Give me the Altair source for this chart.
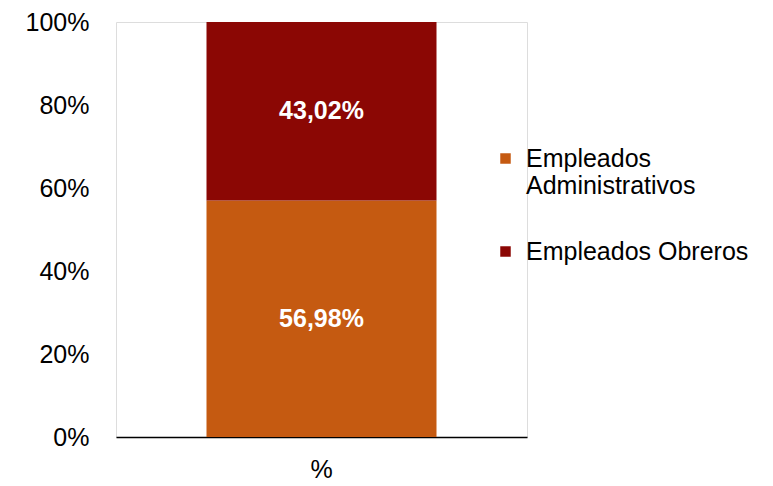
import altair as alt
import pandas as pd

categories = ["%", "%"]
series = ["Empleados Administrativos", "Empleados Obreros"]
values = [0.5698, 0.4302]
labels = ["56,98%", "43,02%"]
order = [0, 1]
colors = ["#C55A11", "#8B0704"]

df = pd.DataFrame({"cat": categories, "serie": series, "value": values,
                   "label": labels, "ord": order})

FONT = "Liberation Sans"

base = alt.Chart(df).transform_stack(
    stack="value", groupby=["cat"], as_=["y0", "y1"],
    sort=[alt.SortField("ord", order="ascending")]
).transform_calculate(ymid="(datum.y0 + datum.y1) / 2")

bars = base.mark_bar(width=230).encode(
    x=alt.X("cat:N", title=None,
            axis=alt.Axis(labelAngle=0, labelFontSize=25, labelFont=FONT,
                          labelColor="#000000", ticks=False, domainColor="#000000",
                          domainWidth=1.5, labelPadding=20)),
    y=alt.Y("y0:Q", title=None, scale=alt.Scale(domain=[0, 1], nice=False),
            axis=alt.Axis(format=".0%", values=[0, 0.2, 0.4, 0.6, 0.8, 1.0],
                          grid=False, domain=False, ticks=False, labelPadding=27,
                          labelFontSize=25, labelFont=FONT, labelColor="#000000")),
    y2="y1:Q",
    color=alt.Color("serie:N",
                    scale=alt.Scale(domain=series, range=colors),
                    legend=alt.Legend(title=None, orient="none", legendX=377, legendY=124,
                                      symbolType="square", symbolSize=110,
                                      symbolStrokeWidth=0,
                                      labelFont=FONT, labelFontSize=25, labelColor="#000000",
                                      labelLimit=400,
                                      labelExpr="datum.label == 'Empleados Administrativos' ? ['Empleados', 'Administrativos'] : datum.label",
                                      rowPadding=40, labelOffset=8)),
)

text = base.mark_text(color="white", font=FONT, fontSize=25, fontWeight="bold",
                      baseline="middle").encode(
    x="cat:N",
    y="ymid:Q",
    text="label:N",
)

chart = (bars + text).properties(
    width=411, height=415,
    autosize=alt.AutoSizeParams(type="none"),
    padding={"left": 108, "top": 14, "right": 238, "bottom": 48},
).configure_view(stroke=None).configure(background="white")

chart.save("out.html", embed_options={"renderer": "svg", "actions": False})
